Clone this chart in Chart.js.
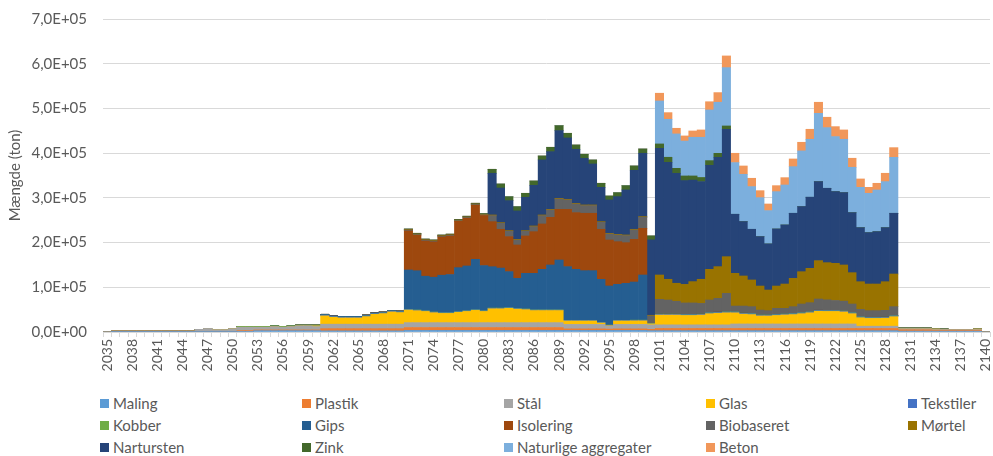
<!DOCTYPE html>
<html lang="da">
<head>
<meta charset="utf-8">
<title>Mængde pr. år</title>
<script src="https://cdn.jsdelivr.net/npm/chart.js@4.4.1/dist/chart.umd.min.js"></script>
<style>
  body { margin: 0; background: #fff; }
  #wrap { position: relative; width: 993px; height: 456px; font-family: Lato, "Liberation Sans", sans-serif; }
  #graf { position: absolute; left: 0; top: 0; }
  #legende {
    position: absolute; left: 100px; top: 392px;
    display: grid; grid-template-columns: repeat(5, 202px);
    font-size: 15px; color: #595959; line-height: 22px;
  }
  #legende span.item { display: flex; align-items: center; white-space: nowrap; }
  #legende span.boks { display: inline-block; width: 9px; height: 9px; margin-right: 4px; }
</style>
</head>
<body>
<div id="wrap">
  <canvas id="graf" width="993" height="388"></canvas>
  <div id="legende"></div>
</div>
<script>
// år 2035-2140
const aar = [
  "2035","2036","2037","2038","2039","2040","2041","2042","2043","2044",
  "2045","2046","2047","2048","2049","2050","2051","2052","2053","2054",
  "2055","2056","2057","2058","2059","2060","2061","2062","2063","2064",
  "2065","2066","2067","2068","2069","2070","2071","2072","2073","2074",
  "2075","2076","2077","2078","2079","2080","2081","2082","2083","2084",
  "2085","2086","2087","2088","2089","2090","2091","2092","2093","2094",
  "2095","2096","2097","2098","2099","2100","2101","2102","2103","2104",
  "2105","2106","2107","2108","2109","2110","2111","2112","2113","2114",
  "2115","2116","2117","2118","2119","2120","2121","2122","2123","2124",
  "2125","2126","2127","2128","2129","2130","2131","2132","2133","2134",
  "2135","2136","2137","2138","2139","2140"
];

// mængder i ton, en række pr. tiår
const maling = [
  0, 500, 500, 500, 500, 500, 500, 500, 500, 500,
  500, 500, 500, 500, 500, 500, 1500, 1500, 3000, 3000,
  3000, 3000, 3000, 3000, 3000, 3000, 2500, 2500, 2500, 2500,
  2500, 2500, 2500, 2500, 2500, 2500, 3500, 3500, 3500, 3500,
  3500, 3500, 3500, 3500, 3500, 3500, 3500, 3500, 3500, 3500,
  3500, 3500, 3500, 3500, 3500, 3500, 3500, 3500, 3500, 3500,
  3500, 3500, 3500, 3500, 3500, 3000, 3000, 3000, 3000, 3000,
  3000, 3000, 3000, 3000, 3000, 3000, 3000, 3000, 3000, 3000,
  3000, 3000, 3000, 3000, 3000, 3000, 3000, 3000, 3000, 3000,
  3000, 3000, 3000, 3000, 3000, 2000, 2000, 2000, 2000, 2000,
  2000, 2000, 2000, 2000, 2000, 0
];

const plastik = [
  0, 1500, 1500, 1500, 1500, 1500, 1500, 1500, 1500, 1500,
  1500, 1000, 1000, 1000, 1000, 1000, 1500, 1500, 1500, 1500,
  1500, 1500, 1500, 1500, 1500, 1500, 5000, 5000, 5000, 5000,
  5000, 5000, 5000, 5000, 5000, 5000, 6500, 6500, 6500, 6500,
  6500, 6500, 6500, 6500, 6500, 6500, 6500, 6500, 6500, 6500,
  6500, 6500, 6500, 6500, 6500, 3500, 3500, 3500, 3500, 3500,
  3000, 3500, 3500, 3500, 3500, 3000, 5000, 5000, 5000, 5000,
  5000, 5000, 5000, 5000, 5000, 5000, 5000, 5000, 5000, 5000,
  5000, 5000, 5000, 5000, 5000, 5000, 5000, 5000, 5000, 5000,
  5000, 5000, 5000, 5000, 5000, 3000, 3000, 3000, 3000, 2000,
  2000, 2000, 2000, 2000, 2000, 0
];

const staal = [
  0, 0, 0, 0, 0, 0, 0, 0, 0, 0,
  0, 4500, 6500, 3700, 3700, 6000, 7700, 7700, 6200, 6200,
  7500, 6200, 7500, 9200, 9200, 7700, 10000, 10000, 10000, 10000,
  10000, 10000, 10000, 10000, 10000, 10000, 11000, 11000, 11000, 11000,
  11000, 11000, 11000, 11000, 11000, 11000, 11000, 11000, 11000, 11000,
  11000, 11000, 11000, 11000, 11000, 10000, 10000, 10000, 10000, 10000,
  6500, 10000, 10000, 10000, 10000, 10000, 8000, 8000, 8000, 8000,
  8000, 8000, 8000, 8000, 8000, 10000, 10000, 10000, 10000, 10000,
  10000, 10000, 10000, 10000, 10000, 10000, 10000, 10000, 10000, 10000,
  5000, 5000, 5000, 5000, 5000, 2400, 2400, 2400, 2400, 1500,
  1500, 1400, 1400, 1400, 1500, 0
];

const glas = [
  0, 0, 0, 0, 0, 0, 0, 0, 0, 0,
  0, 0, 0, 0, 0, 0, 0, 0, 0, 0,
  0, 0, 0, 0, 0, 1500, 18600, 15500, 14000, 14000,
  14000, 17000, 22000, 23700, 27500, 26000, 28000, 26700, 25000, 22200,
  20600, 20600, 23000, 25000, 27400, 25000, 31000, 31000, 32000, 30000,
  29000, 27000, 27000, 27000, 27000, 7600, 7600, 7600, 7600, 3000,
  1000, 7600, 7600, 8000, 8000, 2000, 22000, 22000, 22000, 21000,
  21000, 22000, 25000, 26000, 27000, 25000, 22000, 21000, 18000, 18000,
  19000, 20300, 21000, 23000, 25000, 28300, 28000, 28000, 27000, 23000,
  19000, 17400, 17400, 18000, 21300, 0, 0, 0, 0, 1200,
  0, 0, 0, 0, 1200, 0
];

const tekstiler = [
  0, 0, 0, 0, 0, 0, 0, 0, 0, 0,
  0, 0, 0, 0, 0, 0, 0, 0, 0, 0,
  0, 0, 0, 0, 0, 0, 1500, 1500, 1500, 1500,
  1500, 1500, 1500, 1500, 1500, 1500, 1000, 1000, 1000, 1000,
  1000, 1000, 1000, 1000, 1000, 1000, 1000, 1000, 1000, 1000,
  1000, 1000, 1000, 1000, 1000, 1000, 1000, 1000, 1000, 1000,
  1000, 1000, 1000, 1000, 1000, 0, 1500, 1500, 1500, 1500,
  1500, 1500, 1500, 1500, 1500, 1500, 1500, 1500, 1500, 1500,
  1500, 1500, 1500, 1500, 1500, 1500, 1500, 1500, 1500, 1500,
  1500, 1500, 1500, 1500, 1500, 0, 0, 0, 0, 0,
  0, 0, 0, 0, 0, 0
];

const kobber = [
  0, 0, 0, 0, 0, 0, 0, 0, 0, 0,
  0, 0, 0, 0, 0, 0, 2000, 2000, 2000, 2000,
  2000, 2000, 2000, 2000, 2000, 2000, 0, 0, 0, 0,
  0, 0, 0, 0, 0, 0, 500, 500, 500, 500,
  500, 500, 500, 500, 500, 500, 500, 500, 500, 500,
  500, 500, 500, 500, 500, 500, 500, 500, 500, 500,
  500, 500, 500, 500, 500, 1400, 500, 500, 500, 500,
  500, 500, 500, 500, 500, 500, 500, 500, 500, 500,
  500, 500, 500, 500, 500, 500, 500, 500, 500, 500,
  500, 500, 500, 500, 500, 1500, 1500, 1500, 1500, 0,
  1200, 0, 0, 0, 0, 0
];

const gips = [
  0, 0, 0, 0, 0, 0, 0, 0, 0, 0,
  0, 0, 0, 0, 0, 0, 0, 0, 0, 0,
  0, 0, 0, 0, 0, 0, 2000, 2000, 2000, 2000,
  2000, 2000, 2000, 2000, 2000, 2000, 88200, 87800, 77300, 77800,
  83900, 85400, 98400, 100200, 112600, 101000, 92500, 89500, 80500, 67500,
  79700, 81700, 90700, 100400, 111500, 120100, 114100, 111100, 111100, 96300,
  87400, 80500, 82800, 85300, 101000, 0, 500, 500, 500, 500,
  500, 500, 500, 500, 500, 500, 500, 500, 500, 500,
  500, 500, 500, 500, 500, 500, 500, 500, 500, 500,
  500, 500, 500, 500, 500, 0, 0, 0, 0, 0,
  0, 0, 0, 0, 0, 0
];

const isolering = [
  0, 0, 0, 0, 0, 0, 0, 0, 0, 0,
  0, 0, 0, 0, 0, 0, 0, 0, 0, 0,
  0, 0, 0, 0, 0, 0, 0, 0, 0, 0,
  0, 0, 0, 0, 0, 0, 87300, 79300, 78700, 79000,
  85500, 86000, 103600, 106800, 121000, 112000, 100800, 86700, 78300, 74600,
  83600, 93200, 101400, 106600, 113400, 128200, 126800, 128300, 128300, 111900,
  102900, 95400, 90900, 95500, 104400, 0, 0, 0, 0, 0,
  0, 0, 0, 0, 0, 0, 0, 0, 0, 0,
  0, 0, 0, 0, 0, 0, 0, 0, 0, 0,
  0, 0, 0, 0, 0, 0, 0, 0, 0, 0,
  0, 0, 0, 0, 0, 0
];

const biobaseret = [
  0, 0, 0, 0, 0, 0, 0, 0, 0, 0,
  0, 0, 0, 0, 0, 0, 0, 0, 0, 0,
  0, 0, 0, 0, 0, 0, 0, 0, 0, 0,
  0, 0, 0, 0, 0, 0, 1500, 1500, 1500, 1500,
  1500, 1500, 1500, 1500, 1500, 1500, 13400, 13400, 11900, 11200,
  10400, 11200, 18600, 16400, 23100, 20900, 19300, 17100, 17100, 15600,
  13400, 15000, 15700, 20900, 24600, 16500, 32500, 31100, 28100, 25500,
  25500, 23500, 28100, 30800, 41000, 12500, 15500, 15200, 10500, 9200,
  13500, 12200, 15200, 19100, 20100, 25000, 23500, 22000, 21500, 19100,
  16100, 14800, 14800, 15000, 19900, 0, 0, 0, 0, 0,
  0, 0, 0, 0, 0, 0
];

const moertel = [
  0, 0, 0, 0, 0, 0, 0, 0, 0, 0,
  0, 0, 0, 0, 0, 0, 0, 0, 0, 0,
  0, 0, 0, 0, 0, 0, 0, 0, 0, 0,
  0, 0, 0, 0, 0, 0, 1500, 1500, 1500, 1500,
  1500, 1500, 1500, 1500, 1500, 1500, 1500, 1500, 1500, 1500,
  1500, 1500, 1500, 1500, 1500, 1500, 1500, 1500, 1500, 1500,
  1500, 1500, 1500, 1500, 1500, 1500, 54500, 46300, 40400, 41500,
  47700, 53900, 68600, 70900, 82000, 73200, 67300, 59700, 53800, 46200,
  49800, 54300, 63300, 72300, 76800, 85800, 83100, 83100, 80900, 70100,
  61900, 59600, 59600, 64000, 73000, 0, 0, 0, 0, 0,
  0, 0, 0, 0, 0, 0
];

const nartursten = [
  0, 0, 0, 0, 0, 0, 0, 0, 0, 0,
  0, 0, 0, 0, 0, 0, 0, 0, 0, 0,
  0, 0, 0, 0, 0, 0, 0, 0, 0, 0,
  0, 0, 0, 0, 0, 0, 0, 0, 0, 0,
  0, 0, 0, 0, 0, 0, 93300, 77400, 67100, 63400,
  74600, 91000, 123100, 129000, 151400, 137200, 120800, 104400, 91700, 76800,
  74600, 84200, 100700, 132000, 141700, 168600, 283500, 261700, 246000, 232000,
  227300, 218700, 232700, 244600, 284900, 132100, 121600, 113300, 110500, 103100,
  127600, 132100, 145500, 145600, 159000, 176700, 166300, 160400, 161800, 134200,
  120800, 114900, 117100, 120800, 135800, 0, 0, 0, 0, 0,
  0, 0, 0, 0, 0, 0
];

const zink = [
  0, 0, 0, 0, 0, 0, 0, 0, 0, 0,
  0, 0, 0, 0, 0, 0, 0, 0, 0, 0,
  0, 0, 0, 0, 0, 0, 0, 0, 0, 0,
  0, 0, 0, 0, 0, 0, 1500, 1500, 1500, 1500,
  1500, 1500, 1500, 1500, 1500, 1500, 8900, 9100, 8900, 9700,
  8900, 9700, 8900, 9700, 11200, 10400, 9700, 9000, 9000, 9000,
  8900, 9000, 9700, 9700, 9700, 9000, 9600, 11200, 11000, 10500,
  9000, 9000, 10400, 8800, 7400, 0, 0, 0, 0, 0,
  0, 0, 0, 0, 0, 0, 0, 0, 0, 0,
  0, 0, 0, 0, 0, 0, 0, 0, 0, 0,
  0, 0, 0, 0, 0, 0
];

const aggregater = [
  0, 0, 0, 0, 0, 0, 0, 0, 0, 0,
  0, 0, 0, 0, 0, 0, 0, 0, 0, 0,
  0, 0, 0, 0, 0, 0, 0, 0, 0, 0,
  0, 0, 0, 0, 0, 0, 0, 0, 0, 0,
  0, 0, 0, 0, 0, 0, 0, 0, 0, 0,
  0, 0, 0, 0, 0, 0, 0, 0, 0, 0,
  0, 0, 0, 0, 0, 0, 96100, 84900, 77000, 78000,
  86500, 89900, 113300, 114200, 130500, 115600, 105800, 95500, 87200, 74500,
  83500, 89400, 104300, 124500, 129600, 152800, 135700, 123000, 119300, 101500,
  90300, 88000, 93200, 103000, 125100, 0, 0, 0, 0, 0,
  0, 0, 0, 0, 0, 0
];

const beton = [
  0, 0, 0, 0, 0, 0, 0, 0, 0, 0,
  0, 0, 0, 0, 0, 0, 0, 0, 0, 0,
  0, 0, 0, 0, 0, 0, 0, 0, 0, 0,
  0, 0, 0, 0, 0, 0, 0, 0, 0, 0,
  0, 0, 0, 0, 0, 0, 0, 0, 0, 0,
  0, 0, 0, 0, 0, 0, 0, 0, 0, 0,
  0, 0, 0, 0, 0, 0, 17300, 14900, 12600, 11500,
  14100, 16400, 18400, 21600, 26100, 20800, 18600, 18600, 15600, 14800,
  13400, 16400, 17200, 19300, 22400, 24700, 23200, 22300, 20900, 20200,
  18700, 13400, 15000, 18700, 21700, 0, 0, 0, 0, 0,
  0, 0, 0, 0, 0, 0
];

const yTicks = [0, 100000, 200000, 300000, 400000, 500000, 600000, 700000];

document.addEventListener("DOMContentLoaded", () => {
  const tekstFarve = "#595959";
  const gitterFarve = "#d9d9d9";
  const skrift = "Lato, 'Liberation Sans', sans-serif";

  // === Serier (rækkefølge = stabling nedefra) ===
  const serier = [
    { navn: "Maling", data: maling, farve: "#5B9BD5" },
    { navn: "Plastik", data: plastik, farve: "#ED7D31" },
    { navn: "Stål", data: staal, farve: "#A5A5A5" },
    { navn: "Glas", data: glas, farve: "#FFC000" },
    { navn: "Tekstiler", data: tekstiler, farve: "#4472C4" },
    { navn: "Kobber", data: kobber, farve: "#70AD47" },
    { navn: "Gips", data: gips, farve: "#255E91" },
    { navn: "Isolering", data: isolering, farve: "#9E480E" },
    { navn: "Biobaseret", data: biobaseret, farve: "#636363" },
    { navn: "Mørtel", data: moertel, farve: "#997300" },
    { navn: "Nartursten", data: nartursten, farve: "#264478" },
    { navn: "Zink", data: zink, farve: "#43682B" },
    { navn: "Naturlige aggregater", data: aggregater, farve: "#7CAFDD" },
    { navn: "Beton", data: beton, farve: "#F1975A" },
  ];

  // 7,0E+05 osv.
  const formatE = (v) =>
    v === 0 ? "0,0E+00" : (v / 1e5).toFixed(1).replace(".", ",") + "E+05";

  const ctx = document.getElementById("graf").getContext("2d");

  const graf = new Chart(ctx, {
    type: "bar",
    data: {
      labels: aar,
      datasets: serier.map((s) => ({
        label: s.navn,
        data: s.data,
        backgroundColor: s.farve,
        borderWidth: 0,
        barPercentage: 1,
        categoryPercentage: 1,
      })),
    },
    options: {
      responsive: false,
      animation: false,
      layout: { padding: { top: 19, right: 3, left: 0, bottom: 0 } },
      plugins: { legend: { display: false }, tooltip: { enabled: false } },
      scales: {
        x: {
          stacked: true,
          grid: { drawOnChartArea: false, tickLength: 5, color: gitterFarve },
          border: { color: gitterFarve },
          ticks: {
            autoSkip: false,
            minRotation: 90,
            maxRotation: 90,
            padding: 2,
            color: tekstFarve,
            font: { family: skrift, size: 14 },
            callback(v, i) {
              return i % 3 === 0 ? this.getLabelForValue(v) : "";
            },
          },
          afterFit(scale) {
            // fast højde, ingen ekstra luft til de drejede etiketter
            scale.height = 56;
            scale.paddingLeft = 0;
            scale.paddingRight = 0;
          },
        },
        y: {
          stacked: true,
          min: 0,
          max: 700000,
          afterBuildTicks(scale) {
            scale.ticks = yTicks.map((v) => ({ value: v }));
          },
          grid: { color: gitterFarve, drawTicks: false },
          border: { display: false },
          ticks: {
            padding: 16,
            color: tekstFarve,
            font: { family: skrift, size: 15 },
            callback: (v) => formatE(v),
          },
          title: {
            display: true,
            text: "Mængde (ton)",
            color: tekstFarve,
            font: { family: skrift, size: 15 },
            padding: { top: 6, bottom: 0 },
          },
          afterFit(scale) {
            scale.width = 103;
            scale.paddingTop = 0;
            scale.paddingBottom = 0;
          },
        },
      },
    },
  });

  // === Legende i fem kolonner ===
  const legende = document.getElementById("legende");
  graf.data.datasets.forEach((ds) => {
    const item = document.createElement("span");
    item.className = "item";
    const boks = document.createElement("span");
    boks.className = "boks";
    boks.style.background = ds.backgroundColor;
    item.appendChild(boks);
    item.appendChild(document.createTextNode(ds.label));
    legende.appendChild(item);
  });
});
</script>
</body>
</html>
